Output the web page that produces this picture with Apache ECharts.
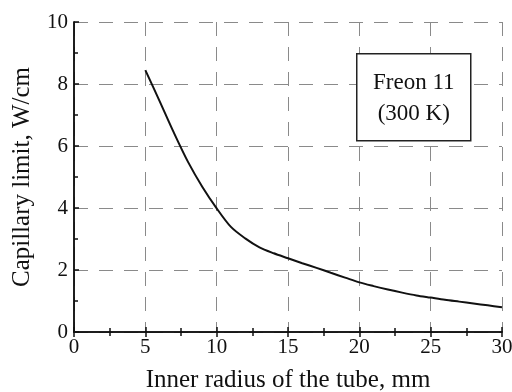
<!DOCTYPE html>
<html>
<head>
<meta charset="utf-8">
<script src="https://cdn.jsdelivr.net/npm/echarts@6/dist/echarts.min.js"></script>
<style>html,body{margin:0;padding:0;background:#fff;}#c{width:512px;height:392px;}</style>
</head>
<body>
<div id="c"></div>
<script>
const radius = [5, 6, 7, 8, 9, 10, 11, 12, 13, 14, 15, 16, 17, 18, 19, 20, 21, 22, 23, 24, 25, 26, 27, 28, 29, 30];
const capLimit = [8.45, 7.45, 6.43, 5.48, 4.68, 3.99, 3.39, 3.02, 2.73, 2.54, 2.38, 2.22, 2.07, 1.91, 1.755, 1.60, 1.48, 1.37, 1.27, 1.18, 1.11, 1.04, 0.98, 0.92, 0.86, 0.80];
const xTicks = [0, 5, 10, 15, 20, 25, 30];
const yTicks = [0, 2, 4, 6, 8, 10];
const xName = 'Inner radius of the tube, mm';
const yName = 'Capillary limit, W/cm';
const boxLines = ['Freon 11', '(300 K)'];

const font = 'Liberation Serif, Times New Roman, serif';
const chart = echarts.init(document.getElementById('c'), null, {renderer: 'canvas'});
const axisLine = {show: true, lineStyle: {color: '#111', width: 1.5}};
const tick = {show: true, inside: true, length: 5, lineStyle: {color: '#111', width: 1.5}};
const minor = {show: true, splitNumber: 2, length: 4, lineStyle: {color: '#111', width: 1.5}};
const split = {show: true, lineStyle: {color: '#8a8a8a', type: [14, 11], width: 1}};
chart.setOption({
  animation: false,
  grid: {left: 74, right: 10, top: 22, bottom: 60, containLabel: false, outerBoundsMode: 'none'},
  xAxis: [{
    type: 'value', min: xTicks[0], max: xTicks[xTicks.length - 1], interval: 5,
    name: xName, nameLocation: 'middle', nameGap: 36,
    nameTextStyle: {fontFamily: font, fontSize: 25, color: '#111'},
    axisLine: axisLine, axisTick: tick, minorTick: minor, splitLine: split,
    axisLabel: {fontFamily: font, fontSize: 21, color: '#111', margin: 5}
  }, {
    type: 'value', position: 'top', min: xTicks[0], max: xTicks[xTicks.length - 1], interval: 5,
    axisLine: axisLine, axisTick: tick, minorTick: minor, splitLine: {show: false},
    axisLabel: {show: false}
  }],
  yAxis: [{
    type: 'value', min: yTicks[0], max: yTicks[yTicks.length - 1], interval: 2,
    name: yName, nameLocation: 'middle', nameGap: 39,
    nameTextStyle: {fontFamily: font, fontSize: 25, color: '#111'},
    axisLine: axisLine, axisTick: tick, minorTick: minor, splitLine: split,
    axisLabel: {fontFamily: font, fontSize: 21, color: '#111', margin: 6}
  }, {
    type: 'value', position: 'right', min: yTicks[0], max: yTicks[yTicks.length - 1], interval: 2,
    axisLine: axisLine, axisTick: {show: false}, splitLine: {show: false},
    axisLabel: {show: false}
  }],
  series: [{
    type: 'line', xAxisIndex: 0, yAxisIndex: 0,
    data: radius.map((r, i) => [r, capLimit[i]]),
    smooth: 0.3, showSymbol: false,
    lineStyle: {color: '#111', width: 2}
  }],
  graphic: [{
    type: 'group', left: 356, top: 53, z: 100,
    children: [
      {type: 'rect', z: 100, shape: {x: 0, y: 0, width: 114, height: 87},
       style: {fill: '#fff', stroke: '#222', lineWidth: 1.5}},
      {type: 'text', z: 101, x: 57, y: 29, style: {text: boxLines[0], fontFamily: font, fontSize: 23, fill: '#111', align: 'center', verticalAlign: 'middle'}},
      {type: 'text', z: 101, x: 57, y: 60, style: {text: boxLines[1], fontFamily: font, fontSize: 23, fill: '#111', align: 'center', verticalAlign: 'middle'}}
    ]
  }]
});
</script>
</body>
</html>
